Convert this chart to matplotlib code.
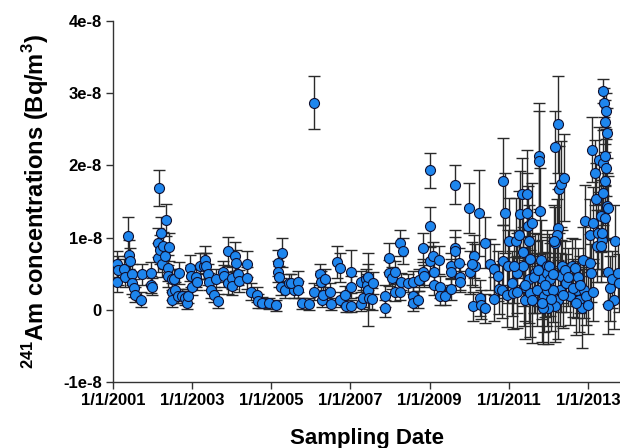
import datetime as dt
import numpy as np
import matplotlib
matplotlib.use("Agg")
import matplotlib.pyplot as plt
import matplotlib.dates as mdates
from matplotlib.ticker import FuncFormatter

# sampling date (decimal year), Am-241 concentration (x1e-8 Bq/m3), 1-sigma error (x1e-8)
sample_year = [
    2001.09, 2001.09, 2001.13, 2001.28, 2001.30, 2001.39, 2001.40, 2001.42, 2001.47, 2001.48,
    2001.53, 2001.56, 2001.72, 2001.74, 2001.96, 2001.97, 2001.98, 2002.13, 2002.14, 2002.16,
    2002.21, 2002.20, 2002.23, 2002.27, 2002.33, 2002.31, 2002.41, 2002.40, 2002.40, 2002.48,
    2002.49, 2002.50, 2002.55, 2002.57, 2002.67, 2002.65, 2002.74, 2002.82, 2002.88, 2002.90,
    2002.95, 2002.96, 2003.01, 2003.10, 2003.13, 2003.20, 2003.31,
    2003.32, 2003.35, 2003.41, 2003.43, 2003.49, 2003.55, 2003.60, 2003.66, 2003.79, 2003.81,
    2003.90, 2003.91, 2004.00, 2004.02, 2004.08, 2004.10, 2004.17, 2004.18, 2004.38, 2004.38,
    2004.49, 2004.63, 2004.67, 2004.76, 2004.94, 2005.12, 2005.18, 2005.18, 2005.19, 2005.24,
    2005.26, 2005.35, 2005.45, 2005.58,
    2005.51, 2005.68, 2005.68, 2005.77, 2005.96, 2006.09, 2006.08, 2006.23, 2006.25, 2006.27,
    2006.31, 2006.36, 2006.48, 2006.50, 2006.65, 2006.74, 2006.74, 2006.86, 2006.89, 2007.01,
    2007.01, 2007.02, 2007.26, 2007.26, 2007.32, 2007.39, 2007.42, 2007.45, 2007.45, 2007.46,
    2007.54, 2007.56, 2007.87, 2007.87, 2007.97, 2007.97,
    2008.04, 2008.12, 2008.12, 2008.25, 2008.33, 2008.25, 2008.27, 2008.46, 2008.57, 2008.58,
    2008.59, 2008.71, 2008.73, 2008.84, 2008.83, 2008.86, 2009.01, 2009.01, 2009.02, 2009.09,
    2009.10, 2009.10, 2009.24, 2009.26, 2009.26, 2009.39, 2009.53, 2009.54, 2009.53, 2009.64,
    2009.64, 2009.65, 2009.75, 2009.77, 2009.78, 2010.00, 2010.02, 2010.13, 2010.15, 2010.10,
    2010.25,
    2010.40, 2010.06, 2010.27, 2010.29, 2010.40, 2010.53, 2010.63, 2010.74, 2010.76, 2010.63,
    2010.85, 2010.91, 2010.86, 2010.82, 2010.95, 2010.99, 2011.01, 2011.07, 2011.11, 2011.18,
    2011.20, 2011.27, 2011.28, 2011.33, 2011.35, 2011.37, 2011.38, 2011.41, 2011.47, 2011.47,
    2011.49, 2011.51, 2011.52, 2011.54, 2011.58, 2011.60, 2011.66, 2011.71, 2011.77, 2011.77,
    2011.78, 2011.81, 2011.83, 2011.89, 2011.96, 2011.97,
    2012.25, 2012.17, 2012.28, 2012.31, 2012.39, 2012.25, 2012.21, 2012.17, 2012.14, 2012.34,
    2012.31, 2012.29, 2012.25, 2012.17, 2012.00, 2011.87, 2011.96, 2012.04, 2012.11, 2012.46,
    2012.55, 2012.59, 2012.67, 2012.72, 2012.78, 2012.84, 2012.88, 2012.90, 2012.95, 2013.01,
    2013.05, 2013.07, 2013.14, 2012.92, 2013.05, 2013.09, 2013.14, 2013.18, 2013.20, 2013.22,
    2013.26, 2013.29, 2013.32, 2013.35, 2013.35, 2013.37, 2013.39, 2013.40, 2013.43, 2013.46,
    2013.47, 2013.43, 2013.44, 2013.46, 2013.39, 2013.47, 2013.43, 2013.33, 2013.51, 2013.68,
    2013.51, 2013.56, 2013.60, 2013.66, 2013.51, 2013.77, 2013.78,
    2011.42, 2011.63, 2011.74, 2011.92, 2012.02, 2012.08, 2012.13, 2012.36, 2012.42, 2012.50,
    2012.62, 2012.70, 2012.75, 2012.81, 2011.22, 2011.13, 2011.55, 2011.85,
]
am241 = [
    0.63, 0.39, 0.55, 0.56, 0.46, 1.02, 0.76, 0.67, 0.49, 0.37,
    0.30, 0.21, 0.14, 0.49, 0.51, 0.35, 0.32, 0.72, 0.93, 1.69,
    1.07, 0.83, 0.63, 0.88, 1.24, 0.74, 0.87, 0.58, 0.47, 0.42,
    0.25, 0.14, 0.42, 0.27, 0.51, 0.19, 0.19, 0.16, 0.09, 0.19,
    0.58, 0.47, 0.32, 0.46, 0.39, 0.60, 0.60,
    0.69, 0.60, 0.49, 0.39, 0.28, 0.21, 0.42, 0.12, 0.53, 0.47,
    0.81, 0.37, 0.44, 0.33, 0.74, 0.65, 0.49, 0.40, 0.64, 0.44,
    0.25, 0.21, 0.12, 0.10, 0.09, 0.06, 0.65, 0.53, 0.46, 0.32,
    0.79, 0.28, 0.37, 0.28,
    0.37, 0.39, 0.28, 0.09, 0.08, 2.87, 0.25, 0.49, 0.39, 0.14,
    0.21, 0.42, 0.25, 0.08, 0.66, 0.58, 0.14, 0.21, 0.05, 0.53,
    0.32, 0.05, 0.39, 0.08, 0.16, 0.42, 0.35, 0.46, 0.28, 0.16,
    0.15, 0.37, 0.19, 0.02, 0.72, 0.51,
    0.44, 0.53, 0.24, 0.93, 0.81, 0.25, 0.39, 0.37, 0.39, 0.19,
    0.10, 0.14, 0.41, 0.86, 0.53, 0.47, 1.93, 1.16, 0.67, 0.74,
    0.53, 0.35, 0.69, 0.32, 0.19, 0.19, 0.60, 0.53, 0.29, 1.73,
    0.86, 0.81, 0.65, 0.46, 0.39, 1.41, 0.52, 0.74, 0.61, 0.05,
    1.34,
    0.93, 0.64, 0.16, 0.07, 0.02, 0.63, 0.56, 0.47, 0.29, 0.15,
    1.78, 1.34, 0.67, 0.28, 0.21, 0.60, 0.95, 0.37, 0.23, 0.95,
    0.51, 1.04, 1.32, 1.60, 0.80, 0.60, 0.32, 0.14, 1.61, 1.34,
    1.16, 0.95, 0.42, 0.23, 1.20, 0.14, 0.51, 0.28, 2.13, 2.06,
    1.37, 0.69, 0.42, 0.19, 0.60, 0.28,
    2.57, 2.25, 1.67, 1.74, 1.83, 1.13, 1.04, 0.93, 0.95, 0.60,
    0.47, 0.28, 0.14, 0.05, 0.02, 0.02, 0.51, 0.42, 0.28, 0.37,
    0.19, 0.60, 0.58, 0.28, 0.14, 0.02, 0.69, 0.28, 0.19, 0.07,
    0.65, 0.51, 0.25, 1.23, 1.03, 2.22, 1.20, 1.90, 1.53, 0.88,
    1.07, 2.08, 1.30, 0.97, 1.07, 2.04, 3.03, 2.87, 2.60, 2.75,
    2.45, 2.13, 1.78, 1.97, 1.62, 1.44, 1.27, 0.88, 1.41, 0.95,
    0.53, 0.30, 0.42, 0.14, 0.07, 0.51, 0.37,
    0.35, 0.45, 0.55, 0.35, 0.60, 0.15, 0.50, 0.20, 0.55, 0.45,
    0.30, 0.10, 0.45, 0.35, 0.25, 0.60, 0.70, 0.10,
]
am241_err = [
    0.18, 0.15, 0.20, 0.15, 0.15, 0.27, 0.20, 0.18, 0.15, 0.15,
    0.12, 0.10, 0.10, 0.15, 0.15, 0.12, 0.12, 0.20, 0.20, 0.25,
    0.22, 0.20, 0.18, 0.20, 0.22, 0.18, 0.20, 0.18, 0.15, 0.15,
    0.12, 0.10, 0.15, 0.12, 0.15, 0.10, 0.10, 0.10, 0.08, 0.10,
    0.18, 0.15, 0.12, 0.15, 0.12, 0.18, 0.18,
    0.20, 0.18, 0.15, 0.12, 0.12, 0.10, 0.15, 0.10, 0.15, 0.15,
    0.20, 0.15, 0.15, 0.12, 0.20, 0.18, 0.15, 0.15, 0.18, 0.15,
    0.12, 0.10, 0.10, 0.08, 0.08, 0.08, 0.18, 0.15, 0.15, 0.12,
    0.20, 0.12, 0.12, 0.12,
    0.12, 0.15, 0.12, 0.08, 0.08, 0.37, 0.12, 0.15, 0.15, 0.10,
    0.10, 0.15, 0.12, 0.08, 0.22, 0.20, 0.10, 0.12, 0.08, 0.30,
    0.15, 0.08, 0.15, 0.10, 0.12, 0.15, 0.15, 0.18, 0.50, 0.15,
    0.15, 0.15, 0.15, 0.12, 0.20, 0.18,
    0.15, 0.15, 0.12, 0.18, 0.18, 0.12, 0.12, 0.12, 0.15, 0.12,
    0.12, 0.12, 0.15, 0.20, 0.18, 0.15, 0.24, 0.27, 0.20, 0.20,
    0.18, 0.15, 0.20, 0.15, 0.12, 0.12, 0.18, 0.18, 0.15, 0.27,
    0.25, 0.20, 0.20, 0.18, 0.15, 0.35, 0.30, 0.30, 0.30, 0.20,
    0.60,
    0.35, 0.30, 0.25, 0.20, 0.20, 0.35, 0.35, 0.35, 0.35, 0.30,
    0.60, 0.55, 0.50, 0.40, 0.45, 0.50, 0.60, 0.45, 0.50, 0.60,
    0.55, 0.60, 0.60, 0.50, 0.55, 0.55, 0.55, 0.55, 0.60, 0.55,
    0.55, 0.50, 0.60, 0.60, 0.55, 0.60, 0.55, 0.50, 0.74, 0.70,
    0.60, 0.55, 0.55, 0.50, 0.50, 0.50,
    0.67, 0.50, 0.60, 0.60, 0.60, 0.55, 0.50, 0.50, 0.50, 0.50,
    0.50, 0.50, 0.55, 0.50, 0.50, 0.50, 0.50, 0.50, 0.45, 0.40,
    0.40, 0.40, 0.40, 0.40, 0.45, 0.55, 0.45, 0.40, 0.40, 0.40,
    0.40, 0.40, 0.40, 0.50, 0.50, 0.45, 0.50, 0.45, 0.50, 0.50,
    0.50, 0.45, 0.50, 0.50, 0.50, 0.45, 0.16, 0.20, 0.30, 0.25,
    0.35, 0.40, 0.40, 0.40, 0.45, 0.45, 0.45, 0.50, 0.45, 0.50,
    0.45, 0.45, 0.40, 0.40, 0.40, 0.40, 0.40,
    0.50, 0.50, 0.50, 0.45, 0.45, 0.45, 0.45, 0.45, 0.40, 0.40,
    0.40, 0.45, 0.40, 0.40, 0.50, 0.50, 0.50, 0.55,
]

y_ticks = [-1, 0, 1, 2, 3, 4]
x_tick_years = [2001, 2003, 2005, 2007, 2009, 2011, 2013]


def to_date(y):
    yr = int(y)
    return dt.datetime(yr, 1, 1) + dt.timedelta(days=(y - yr) * 365.25)


dates = [to_date(y) for y in sample_year]
vals = np.array(am241) * 1e-8
errs = np.array(am241_err) * 1e-8

plt.rcParams["font.family"] = ["Liberation Sans", "DejaVu Sans"]
plt.rcParams["font.weight"] = "bold"
plt.rcParams["mathtext.fontset"] = "custom"
plt.rcParams["mathtext.bf"] = "Liberation Sans:bold"
plt.rcParams["mathtext.rm"] = "Liberation Sans:bold"

fig = plt.figure(figsize=(6.2, 4.48), dpi=100)
ax = fig.add_axes([113 / 620, 1 - 382 / 448, 1 - 113 / 620, (382 - 21) / 448])

ax.errorbar(dates, vals, yerr=errs, fmt="none", ecolor="#2a2a2a",
            elinewidth=1.0, capsize=4, capthick=1.0, zorder=2)
ax.plot(dates, vals, "o", ms=7.2, mfc="#1E86EE", mec="#101030", mew=0.8,
        linestyle="none", zorder=3)

ax.set_xlim(to_date(2001.0), to_date(2013.81))
ax.set_ylim(-1e-8, 4e-8)
ax.set_yticks([t * 1e-8 for t in y_ticks])
ax.yaxis.set_major_formatter(FuncFormatter(lambda v, p: "0" if abs(v) < 1e-12 else f"{v * 1e8:.0f}e-8"))
ax.set_xticks([dt.datetime(y, 1, 1) for y in x_tick_years])
ax.xaxis.set_major_formatter(FuncFormatter(
    lambda v, p: "{d.month}/{d.day}/{d.year}".format(d=mdates.num2date(v))))

for s in ["top", "right"]:
    ax.spines[s].set_visible(False)
for s in ["left", "bottom"]:
    ax.spines[s].set_linewidth(1.0)
    ax.spines[s].set_color("#333333")
ax.tick_params(direction="out", length=5, width=1, color="#333333",
               labelsize=12, pad=3)
for lab in ax.get_xticklabels() + ax.get_yticklabels():
    lab.set_fontweight("bold")

ax.set_xlabel("Sampling Date", fontsize=16, fontweight="bold", labelpad=14)
ax.set_ylabel(r"$^{\mathbf{241}}$Am concentrations (Bq/m$^{\mathbf{3}}$)",
              fontsize=17, fontweight="bold", labelpad=9)

fig.savefig("out.png", dpi=100)
